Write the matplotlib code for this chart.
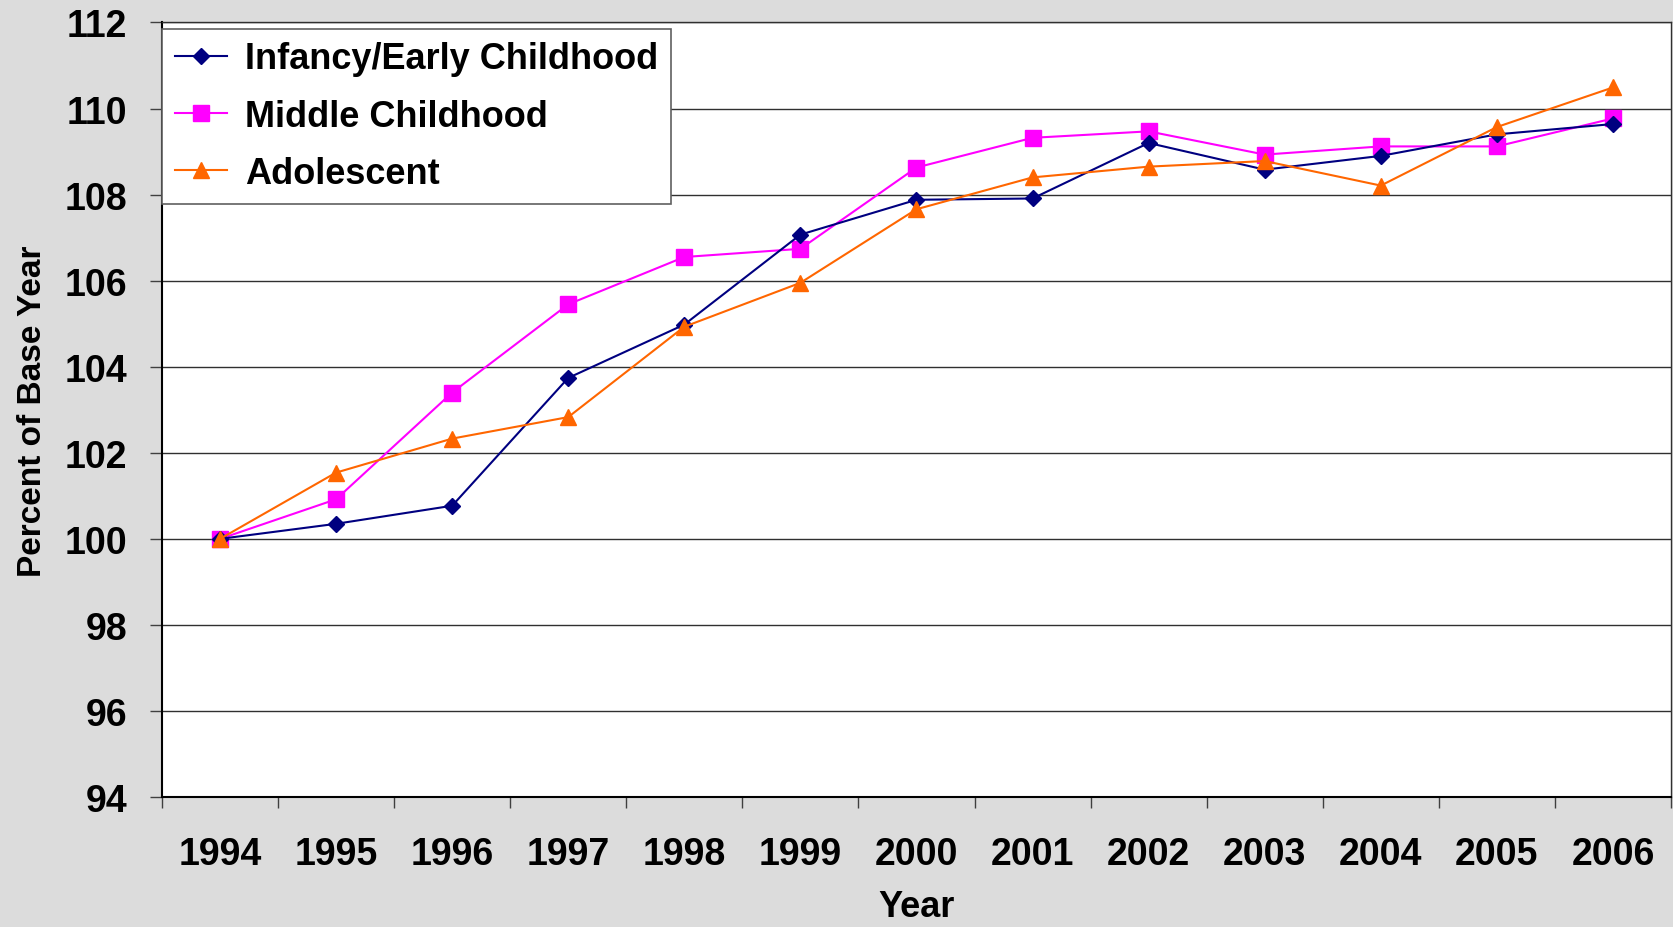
import numpy as np
import matplotlib
matplotlib.use("Agg")
import matplotlib.pyplot as plt
from matplotlib.ticker import FixedLocator

years = ["1994", "1995", "1996", "1997", "1998", "1999", "2000",
         "2001", "2002", "2003", "2004", "2005", "2006"]
infancy = [100.0, 100.35, 100.77, 103.74, 104.98, 107.07, 107.88,
           107.91, 109.20, 108.58, 108.90, 109.40, 109.64]
middle = [100.0, 100.92, 103.40, 105.45, 106.55, 106.74, 108.63,
          109.32, 109.47, 108.93, 109.12, 109.12, 109.77]
adolescent = [100.0, 101.54, 102.33, 102.83, 104.93, 105.95, 107.66,
              108.40, 108.65, 108.78, 108.21, 109.57, 110.49]
yticks = [94, 96, 98, 100, 102, 104, 106, 108, 110, 112]

plt.rcParams['font.family'] = ['Liberation Sans', 'DejaVu Sans']

fig = plt.figure(figsize=(16.73, 9.28), dpi=100, facecolor="#DCDCDC")
ax = fig.add_axes([0.0968, 0.140, 0.902, 0.8347])
ax.set_facecolor("white")

x = np.arange(len(years))
ax.plot(x, infancy, color="#000080", lw=1.5, marker="D", ms=8,
        label="Infancy/Early Childhood", zorder=4)
ax.plot(x, middle, color="#FF00FF", lw=1.5, marker="s", ms=11,
        label="Middle Childhood", zorder=3)
ax.plot(x, adolescent, color="#FF6600", lw=1.5, marker="^", ms=11,
        label="Adolescent", zorder=5)

ax.set_ylim(94, 112)
ax.set_xlim(-0.5, len(years) - 0.5)
ax.set_yticks(yticks)
ax.set_yticklabels([str(v) for v in yticks], fontsize=27, fontweight="bold")
ax.yaxis.grid(True, color="#303030", lw=1)
ax.set_axisbelow(True)

ax.set_xticks(x)
ax.set_xticklabels(years, fontsize=27, fontweight="bold")
ax.xaxis.set_minor_locator(FixedLocator(np.arange(-0.5, len(years), 1.0)))
ax.tick_params(axis="x", which="major", length=0, pad=28)
ax.tick_params(axis="x", which="minor", length=8, width=1, color="#404040")
ax.tick_params(axis="y", length=9, width=1, color="#404040", pad=16)

for side in ["top", "right"]:
    ax.spines[side].set_color("#303030")
    ax.spines[side].set_linewidth(1)
ax.spines["left"].set_linewidth(1.5)
ax.spines["bottom"].set_linewidth(1.5)

ax.set_xlabel("Year", fontsize=26, fontweight="bold", labelpad=12)
ax.set_ylabel("Percent of Base Year", fontsize=24, fontweight="bold",
              labelpad=12)

leg = ax.legend(loc="upper left", bbox_to_anchor=(0.0, 0.992),
                borderaxespad=0, fancybox=False, framealpha=1,
                edgecolor="#606060", handlelength=1.45, handletextpad=0.5,
                labelspacing=0.62, borderpad=0.35,
                prop=dict(size=26, weight="bold"))
leg.get_frame().set_linewidth(1.2)
leg.set_zorder(10)

fig.savefig("out.png", dpi=100, facecolor=fig.get_facecolor())
